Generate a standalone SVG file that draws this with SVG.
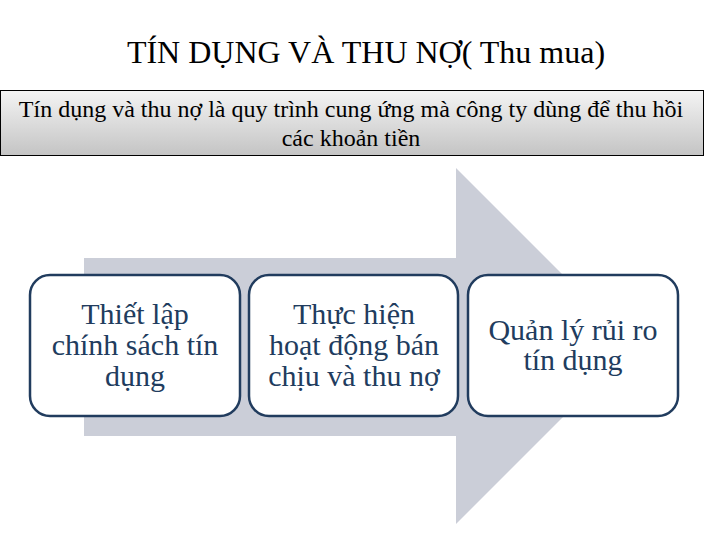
<svg xmlns="http://www.w3.org/2000/svg" width="720" height="540" viewBox="0 0 720 540" font-family="'Liberation Serif', serif">
<style>
.box{fill:#ffffff;stroke:#213c5e;stroke-width:2.5}
.bt{font-size:30px;fill:#213c5e;text-anchor:middle}
.st{font-size:24px;fill:#000;text-anchor:middle}
</style>
<defs>
<linearGradient id="hdr" x1="0" y1="0" x2="0" y2="1">
<stop offset="0" stop-color="#f4f4f4"/>
<stop offset="1" stop-color="#c4c4c4"/>
</linearGradient>
</defs>
<rect width="720" height="540" fill="#ffffff"/>
<text x="366" y="63" font-family="'Liberation Serif'" font-size="32" text-anchor="middle">TÍN DỤNG VÀ THU NỢ( Thu mua)</text>
<g id="summary">
<rect x="0.5" y="90.5" width="703" height="65" fill="url(#hdr)" stroke="#000" stroke-width="1"/>
<text class="st" font-family="'Liberation Serif'" x="351" y="117">Tín dụng và thu nợ là quy trình cung ứng mà công ty dùng để thu hồi</text>
<text class="st" font-family="'Liberation Serif'" x="351" y="146">các khoản tiền</text>
</g>
<g id="arrow">
<polygon points="84,258 456,258 456,168 634,346 456,524 456,436 84,436" fill="#cbced8"/>
</g>
<g id="connectors"></g>
<g id="step1">
<rect class="box" x="30" y="275" width="210" height="141" rx="20"/>
<text class="bt" font-family="'Liberation Serif'" x="135" y="324">Thiết lập</text>
<text class="bt" font-family="'Liberation Serif'" x="135" y="355">chính sách tín</text>
<text class="bt" font-family="'Liberation Serif'" x="135" y="386">dụng</text>
</g>
<g id="step2">
<rect class="box" x="249" y="275" width="209" height="141" rx="20"/>
<text class="bt" font-family="'Liberation Serif'" x="354" y="324">Thực hiện</text>
<text class="bt" font-family="'Liberation Serif'" x="354" y="355">hoạt động bán</text>
<text class="bt" font-family="'Liberation Serif'" x="354" y="386">chịu và thu nợ</text>
</g>
<g id="step3">
<rect class="box" x="468" y="275" width="210" height="141" rx="20"/>
<text class="bt" font-family="'Liberation Serif'" x="573" y="340">Quản lý rủi ro</text>
<text class="bt" font-family="'Liberation Serif'" x="573" y="370">tín dụng</text>
</g>
</svg>
